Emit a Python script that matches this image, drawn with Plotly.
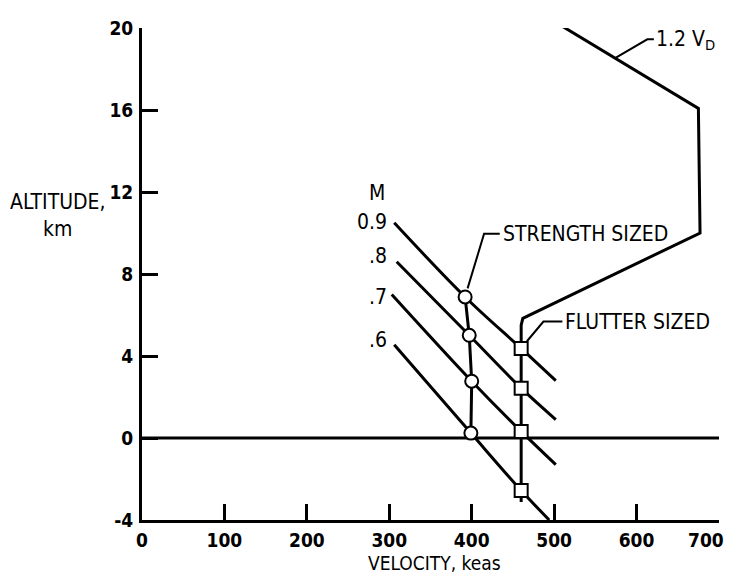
import plotly.graph_objects as go

# Velocity (keas) and altitude (km)
mach_labels = ["0.9", ".8", ".7", ".6"]
mach_label_alt = [10.56, 8.88, 6.9, 4.79]
mach_v = [
    [306, 392, 460, 502],
    [309, 397, 460, 502],
    [303, 400, 460, 502],
    [306, 399, 460, 494],
]
mach_alt = [
    [10.5, 6.88, 4.37, 2.8],
    [8.6, 5.01, 2.43, 0.9],
    [7.0, 2.77, 0.32, -1.3],
    [4.55, 0.24, -2.56, -4.0],
]

# strength sized points (circles) and flutter sized points (squares)
strength_v = [392, 397, 400, 399]
strength_alt = [6.88, 5.01, 2.77, 0.24]
flutter_v = [460, 460, 460, 460]
flutter_alt = [4.37, 2.43, 0.32, -2.56]

# 1.2 V_D boundary, running down into the flutter sized line
vd_v = [508, 675, 677, 462, 460, 460]
vd_alt = [20.13, 16.08, 10.0, 5.84, 5.5, -3.12]

# sea level line
zero_v = [0, 700]
zero_alt = [0, 0]

# leader lines for the callouts
lead_strength_v = [434, 415, 395]
lead_strength_alt = [9.96, 9.96, 7.3]
lead_flutter_v = [510, 487, 467]
lead_flutter_alt = [5.68, 5.68, 4.72]
lead_vd_v = [621, 613, 575]
lead_vd_alt = [19.45, 19.45, 18.56]

x_ticks = [0, 100, 200, 300, 400, 500, 600, 700]
# last label is written separately so it is not clipped at the right edge
x_ticktext = ["0", "100", "200", "300", "400", "500", "600", ""]
y_ticks = [-4, 0, 4, 8, 12, 16, 20]
y_ticktext = ["-4", "0", "4", "8", "12", "16", "20"]

TICK_FONT = "Liberation Sans Narrow, DejaVu Sans Condensed, Arial Narrow, sans-serif"
FONT = "DejaVu Sans Condensed, Liberation Sans Narrow, sans-serif"
black = "black"

fig = go.Figure()

fig.add_trace(go.Scatter(x=zero_v, y=zero_alt, mode="lines",
                         line=dict(color=black, width=3)))

for v, a in zip(mach_v, mach_alt):
    fig.add_trace(go.Scatter(x=v, y=a, mode="lines",
                             line=dict(color=black, width=3, shape="spline")))

fig.add_trace(go.Scatter(x=vd_v, y=vd_alt, mode="lines",
                         line=dict(color=black, width=3)))

fig.add_trace(go.Scatter(x=strength_v, y=strength_alt, mode="lines+markers",
                         line=dict(color=black, width=3),
                         marker=dict(symbol="circle", size=13, color="white",
                                     line=dict(color=black, width=2))))
fig.add_trace(go.Scatter(x=flutter_v, y=flutter_alt, mode="markers",
                         marker=dict(symbol="square", size=13, color="white",
                                     line=dict(color=black, width=2))))

for lv, la in [(lead_strength_v, lead_strength_alt),
               (lead_flutter_v, lead_flutter_alt),
               (lead_vd_v, lead_vd_alt)]:
    fig.add_trace(go.Scatter(x=lv, y=la, mode="lines",
                             line=dict(color=black, width=2)))

ann = []
ann.append(dict(x=285, y=11.94, text="M", xanchor="center"))
for t, a in zip(mach_labels, mach_label_alt):
    ann.append(dict(x=300, y=a, text=t, xanchor="right"))
ann.append(dict(x=435, y=9.96, text="STRENGTH SIZED", xanchor="left"))
ann.append(dict(x=511, y=5.68, text="FLUTTER SIZED", xanchor="left"))
ann.append(dict(x=621, y=19.4, text="1.2 V<sub>D</sub>", xanchor="left"))
ann.append(dict(x=-0.145, xref="paper", y=10.85,
                text="ALTITUDE,<br>km", xanchor="center"))
for a in ann:
    a.update(xref=a.get("xref", "x"), yref="y", yanchor="middle",
             showarrow=False, font=dict(family=FONT, size=21, color=black))

ann.append(dict(x=355, xref="x", y=-0.112, yref="paper", yanchor="bottom",
                borderpad=0, text="VELOCITY, keas", xanchor="center",
                showarrow=False, font=dict(family=FONT, size=19, color=black)))
ann.append(dict(x=1.0125, xref="paper", y=-0.041, yref="paper",
                text=str(x_ticks[-1]), xanchor="right", yanchor="middle",
                showarrow=False,
                font=dict(family=TICK_FONT, size=19, color=black, weight="bold")))

# the page body keeps an 8px margin, so the figure is sized to fit inside it
fig.update_layout(
    width=720, height=568,
    margin=dict(l=134, r=9, t=12, b=56),
    paper_bgcolor="white", plot_bgcolor="white",
    showlegend=False,
    annotations=ann,
    xaxis=dict(range=[0, 700], tickvals=x_ticks, ticktext=x_ticktext,
               ticks="inside", ticklen=16,
               tickwidth=2.5, tickcolor=black, showline=True, linewidth=3,
               linecolor=black, showgrid=False, zeroline=False,
               ticklabelstandoff=1,
               tickfont=dict(family=TICK_FONT, size=19, color=black, weight="bold")),
    yaxis=dict(range=[-4, 20], tickvals=y_ticks, ticktext=y_ticktext,
               ticks="inside", ticklen=16, tickwidth=2.5, tickcolor=black,
               showline=True, linewidth=3, linecolor=black, showgrid=False,
               zeroline=False, ticklabelstandoff=2,
               tickfont=dict(family=TICK_FONT, size=19, color=black, weight="bold")),
)

fig.write_html("out.html", config={"displayModeBar": False})
